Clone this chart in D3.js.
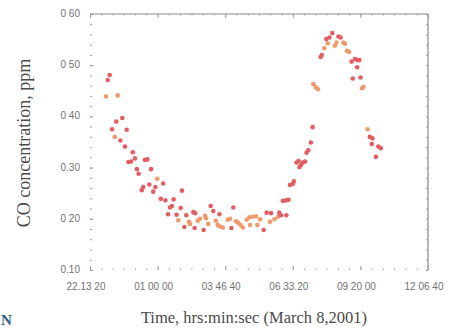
<!DOCTYPE html>
<html>
<head>
<meta charset="utf-8">
<script src="https://cdn.jsdelivr.net/npm/d3@7"></script>
<style>
  body { margin: 0; background: #fff; }
  svg { display: block; }
</style>
</head>
<body>
<div id="chart"></div>
<script>
// time is in clock hours (values past 24 are on March 8), CO in ppm
const redSeries = [
  [22.95,0.471],[23.03,0.481],[23.13,0.375],[23.30,0.390],[23.47,0.353],[23.55,0.397],
  [23.66,0.341],[23.73,0.374],[23.80,0.311],[23.91,0.312],[23.98,0.330],[24.07,0.318],
  [24.15,0.297],[24.22,0.288],[24.35,0.256],[24.41,0.262],[24.48,0.315],[24.58,0.316],
  [24.66,0.267],[24.73,0.297],[24.82,0.253],[24.91,0.262],[25.13,0.239],[25.23,0.269],
  [25.32,0.236],[25.43,0.209],[25.51,0.222],[25.59,0.225],[25.66,0.238],[25.78,0.208],
  [25.95,0.221],[26.00,0.255],[26.10,0.184],[26.18,0.207],[26.47,0.213],[26.52,0.182],
  [26.54,0.211],[26.89,0.178],[27.18,0.225],[27.29,0.215],[27.54,0.209],[28.03,0.182],
  [28.11,0.222],[29.36,0.178],[29.48,0.212],[29.66,0.211],[30.00,0.212],[30.07,0.207],
  [30.15,0.235],[30.28,0.236],[30.29,0.207],[30.38,0.237],[30.44,0.266],[30.55,0.268],
  [30.60,0.273],[30.71,0.310],[30.79,0.313],[30.83,0.301],[30.89,0.305],[30.97,0.310],
  [31.06,0.312],[31.12,0.329],[31.19,0.334],[31.30,0.349],[31.37,0.379],[31.70,0.516],
  [31.75,0.520],[31.93,0.551],[32.06,0.554],[32.18,0.563],[32.43,0.556],[32.52,0.554],
  [32.97,0.507],[33.02,0.474],[33.11,0.512],[33.20,0.496],[33.21,0.510],[33.29,0.510],
  [33.34,0.476],[33.72,0.360],[33.80,0.346],[33.83,0.357],[33.97,0.321],[34.07,0.341],
  [34.17,0.338]
];

const orangeSeries = [
  [22.88,0.439],[23.24,0.360],[23.36,0.441],[24.99,0.278],[25.85,0.197],[26.29,0.194],
  [26.33,0.190],[26.65,0.196],[26.74,0.200],[26.95,0.206],[26.99,0.201],[27.08,0.190],
  [27.39,0.196],[27.47,0.188],[27.56,0.185],[27.68,0.183],[27.88,0.198],[27.98,0.200],
  [28.22,0.195],[28.32,0.192],[28.41,0.188],[28.50,0.183],[28.66,0.198],[28.77,0.203],
  [28.80,0.188],[28.91,0.204],[29.04,0.205],[29.10,0.188],[29.21,0.199],[29.62,0.194],
  [29.80,0.199],[29.95,0.204],[31.40,0.463],[31.50,0.457],[31.59,0.453],[31.85,0.533],
  [31.99,0.543],[32.28,0.538],[32.35,0.544],[32.63,0.544],[32.70,0.542],[32.78,0.528],
  [32.87,0.526],[33.40,0.455],[33.46,0.458],[33.63,0.375]
];

// 22:13:20 .. 12:06:40 next day, every 10000 s
const xTicks = [80000, 90000, 100000, 110000, 120000, 130000].map(s => s / 3600);
const xTickLabels = ["22.13 20", "01 00 00", "03 46 40", "06 33.20", "09 20 00", "12 06 40"];
const yTicks = [0.10, 0.20, 0.30, 0.40, 0.50, 0.60];
const yTickLabels = ["0.10", "0 20", "0.30", "0 40", "0 50", "0 60"];

const width = 450, height = 328;
const plot = {left: 90, right: 428, top: 14, bottom: 270};

const svg = d3.select("#chart").append("svg")
  .attr("width", width)
  .attr("height", height);

const x = d3.scaleLinear()
  .domain([xTicks[0], xTicks[xTicks.length - 1]])
  .range([plot.left, plot.right]);

const y = d3.scaleLinear()
  .domain([0.10, 0.60])
  .range([plot.bottom, plot.top]);

const axisColor = "#8a8a8a";

// frame: only top and right edges survive in the scan
svg.append("line")
  .attr("x1", plot.left).attr("x2", plot.right)
  .attr("y1", plot.top).attr("y2", plot.top)
  .attr("stroke", axisColor).attr("stroke-width", 1.2);
svg.append("line")
  .attr("x1", plot.right).attr("x2", plot.right)
  .attr("y1", plot.top).attr("y2", plot.bottom)
  .attr("stroke", axisColor).attr("stroke-width", 1.2);

// minor ticks
const xMinor = d3.range(0, 31).map(i => xTicks[0] + i * (xTicks[1] - xTicks[0]) / 6);
const yMinor = d3.range(0, 26).map(i => 0.10 + i * 0.02);

const bottomAxis = d3.axisBottom(x).tickValues(xMinor).tickSize(-1.5).tickFormat("");
const topAxis = d3.axisTop(x).tickValues(xMinor).tickSize(-1.5).tickFormat("");
const leftAxis = d3.axisLeft(y).tickValues(yMinor).tickSize(-2).tickFormat("");
const rightAxis = d3.axisRight(y).tickValues(yMinor).tickSize(-2).tickFormat("");

[[bottomAxis, `translate(0,${plot.bottom})`],
 [topAxis, `translate(0,${plot.top})`],
 [leftAxis, `translate(${plot.left},0)`],
 [rightAxis, `translate(${plot.right},0)`]].forEach(([ax, tr]) => {
  const g = svg.append("g").attr("transform", tr).call(ax);
  g.select(".domain").remove();
  g.selectAll(".tick line").attr("stroke", "#9a9a9a").attr("stroke-width", 1);
});

// major ticks, slightly longer
svg.append("g")
  .attr("transform", `translate(0,${plot.bottom})`)
  .call(d3.axisBottom(x).tickValues(xTicks).tickSize(-4).tickFormat(""))
  .call(g => g.select(".domain").remove())
  .selectAll(".tick line").attr("stroke", "#9a9a9a");
svg.append("g")
  .attr("transform", `translate(0,${plot.top})`)
  .call(d3.axisTop(x).tickValues(xTicks).tickSize(-4).tickFormat(""))
  .call(g => g.select(".domain").remove())
  .selectAll(".tick line").attr("stroke", "#9a9a9a");
svg.append("g")
  .attr("transform", `translate(${plot.left},0)`)
  .call(d3.axisLeft(y).tickValues(yTicks).tickSize(-3).tickFormat(""))
  .call(g => g.select(".domain").remove())
  .selectAll(".tick line").attr("stroke", "#9a9a9a");

// tick labels
svg.append("g").selectAll("text")
  .data(xTicks)
  .join("text")
  .attr("x", d => x(d) - 4)
  .attr("y", 290)
  .attr("text-anchor", "middle")
  .style("font-family", "'Liberation Sans', Arial, sans-serif")
  .style("font-size", "10px")
  .style("fill", "#727272")
  .text((d, i) => xTickLabels[i]);

svg.append("g").selectAll("text")
  .data(yTicks)
  .join("text")
  .attr("x", 80)
  .attr("y", d => y(d) + 3)
  .attr("text-anchor", "end")
  .style("font-family", "'Liberation Sans', Arial, sans-serif")
  .style("font-size", "10px")
  .style("fill", "#727272")
  .text((d, i) => yTickLabels[i]);

// points
svg.append("g").selectAll("circle")
  .data(orangeSeries)
  .join("circle")
  .attr("cx", d => x(d[0]))
  .attr("cy", d => y(d[1]))
  .attr("r", 2.3)
  .attr("fill", "#ee9a6c");

svg.append("g").selectAll("circle")
  .data(redSeries)
  .join("circle")
  .attr("cx", d => x(d[0]))
  .attr("cy", d => y(d[1]))
  .attr("r", 2.3)
  .attr("fill", "#e25e63");

// axis titles
svg.append("text")
  .attr("transform", "translate(30,143) rotate(-90)")
  .attr("text-anchor", "middle")
  .style("font-family", "'Liberation Serif', 'Times New Roman', serif")
  .style("font-size", "18px")
  .style("fill", "#4a4a4a")
  .text("CO concentration, ppm");

svg.append("text")
  .attr("x", 254)
  .attr("y", 323)
  .attr("text-anchor", "middle")
  .style("font-family", "'Liberation Serif', 'Times New Roman', serif")
  .style("font-size", "16.5px")
  .style("fill", "#4a4a4a")
  .text("Time, hrs:min:sec (March 8,2001)");

// scrap of a logo at the bottom-left corner of the scan
svg.append("text")
  .attr("x", 1)
  .attr("y", 325)
  .style("font-family", "'Liberation Serif', serif")
  .style("font-weight", "bold")
  .style("font-size", "15px")
  .style("fill", "#2b5d7d")
  .text("N");
</script>
</body>
</html>
